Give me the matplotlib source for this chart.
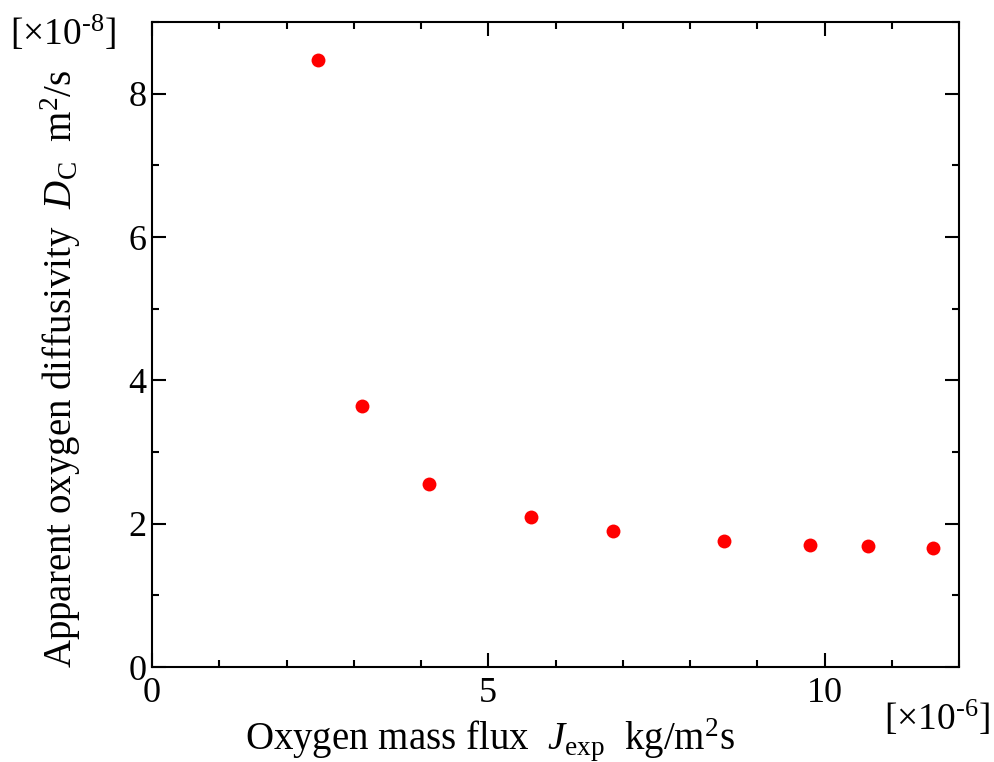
import matplotlib
matplotlib.use("Agg")
import matplotlib.pyplot as plt
from matplotlib.ticker import MultipleLocator

# data (x in 1e-6 kg/m2s, y in 1e-8 m2/s)
flux = [2.47, 3.12, 4.12, 5.64, 6.85, 8.51, 9.79, 10.64, 11.61]
diffusivity = [8.47, 3.64, 2.56, 2.09, 1.90, 1.76, 1.70, 1.69, 1.66]

plt.rcParams['font.family'] = ['Liberation Serif', 'DejaVu Serif']
plt.rcParams['mathtext.fontset'] = 'custom'
plt.rcParams['mathtext.rm'] = 'Liberation Serif'
plt.rcParams['mathtext.it'] = 'Liberation Serif:italic'

fig = plt.figure(figsize=(9.94, 7.62), dpi=100)
ax = fig.add_axes([152 / 994, 1 - 667 / 762, (959 - 152) / 994, (667 - 22) / 762])

ax.plot(flux, diffusivity, 'o', color='#ff0000', markersize=10, markeredgewidth=0)

ax.set_xlim(0, 12)
ax.set_ylim(0, 9)
ax.xaxis.set_major_locator(MultipleLocator(5))
ax.xaxis.set_minor_locator(MultipleLocator(1))
ax.yaxis.set_major_locator(MultipleLocator(2))
ax.yaxis.set_minor_locator(MultipleLocator(1))
ax.tick_params(which='both', direction='in', top=True, right=True, width=1.5, labelsize=26)
ax.tick_params(axis='x', which='major', length=10, pad=7)
ax.tick_params(axis='y', which='major', length=10, pad=4)
ax.tick_params(which='minor', length=5)
for sp in ax.spines.values():
    sp.set_linewidth(1.5)

ax.set_xlabel(r'Oxygen mass flux  $J_{\rm exp}$  kg/m$^2$s', fontsize=28)
ax.xaxis.set_label_coords((490 - 152) / 807, -0.076, transform=ax.transAxes)
ax.xaxis.label.set_va('top')
ax.set_ylabel(r'Apparent oxygen diffusivity  $D_{\rm C}$  m$^2$/s', fontsize=28)
ax.yaxis.set_label_coords(-0.085, 0.462)

fig.text(10 / 994, 1 - 33 / 762, r'[$\times$10$^{\text{-8}}$]', fontsize=27, va='center', ha='left')
fig.text(990 / 994, 1 - 718 / 762, r'[$\times$10$^{\text{-6}}$]', fontsize=27, va='center', ha='right')

fig.savefig('out.png', dpi=100)
